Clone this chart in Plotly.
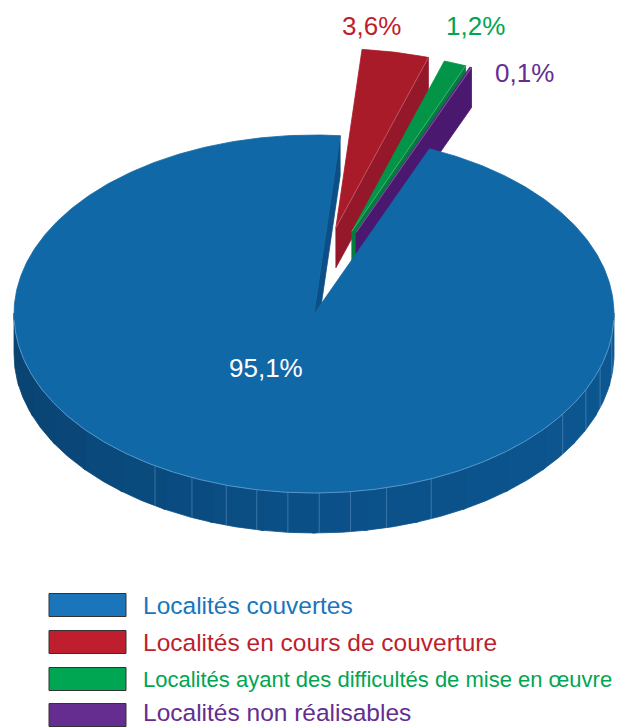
import numpy as np
import plotly.graph_objects as go

# ---------------- data ----------------
labels = [
    "Localités couvertes",
    "Localités en cours de couverture",
    "Localités ayant des difficultés de mise en œuvre",
    "Localités non réalisables",
]
values = [95.1, 3.6, 1.2, 0.1]

# ---------------- styles ----------------
top_colors = ["#1168a7", "#a91b29", "#029447", "#5c2482"]
face_colors = ["#0b4f86", "#94172a", "#027d3d", "#4a186f"]
legend_colors = ["#1a75bb", "#be1e2d", "#00a651", "#662d91"]
text_colors = ["#ffffff", "#be1e2d", "#00a651", "#662d91"]
pulled = [False, True, True, True]
draw_order = [1, 2, 3, 0]          # clockwise from the start angle
start_angle = 5.0                  # degrees, clockwise from top
W, H = 618, 727
CX, CY, RX, RY, DEPTH = 314, 314, 300, 179, 40
PULL_X, PULL_Y = 110, 88
label_pos = [(266, 368), (371, 26), (475, 26), (524, 73)]
legend_rows = [605, 642, 679, 715]
legend_text_rows = [605, 642, 679, 712]
legend_sizes = [24.5, 24.5, 22, 24.5]
facet_angles = [97, 107.5, 115, 124, 157, 166, 173, 179, 185, 191, 197, 204, 212]

FONT = "Liberation Sans"

# ---------------- geometry from values ----------------
total = sum(values)
spans = {}
a = start_angle
for i in draw_order:
    s = 360.0 * values[i] / total
    spans[i] = (a, a + s)
    a += s


def apex(i):
    a1, a2 = spans[i]
    if not pulled[i]:
        return CX, CY
    m = np.radians((a1 + a2) / 2)
    return CX + PULL_X * np.sin(m), CY - PULL_Y * np.cos(m)


def pt(ax, ay, theta_deg, z=0.0):
    t = np.radians(theta_deg)
    return ax + RX * np.sin(t), ay - RY * np.cos(t) + z


def arc(ax, ay, a1, a2, z=0.0, step=0.5):
    n = max(2, int(abs(a2 - a1) / step) + 2)
    th = np.linspace(a1, a2, n)
    xs = ax + RX * np.sin(np.radians(th))
    ys = ay - RY * np.cos(np.radians(th)) + z
    return list(xs), list(ys)


fig = go.Figure()


def poly(xs, ys, color, line_color=None, lw=0.8):
    fig.add_trace(go.Scatter(
        x=xs, y=ys, mode="lines", fill="toself", fillcolor=color,
        line=dict(color=line_color or color, width=lw),
        hoverinfo="skip", showlegend=False,
    ))


def seg(xs, ys, color, lw=0.8):
    fig.add_trace(go.Scatter(x=xs, y=ys, mode="lines",
                             line=dict(color=color, width=lw),
                             hoverinfo="skip", showlegend=False))


def end_face(i):
    ax, ay = apex(i)
    a2 = spans[i][1]
    ox, oy = pt(ax, ay, a2)
    poly([ax, ox, ox, ax, ax], [ay, oy, oy + DEPTH, ay + DEPTH, ay], face_colors[i])


def top_face(i, ridge=False):
    ax, ay = apex(i)
    a1, a2 = spans[i]
    xs, ys = arc(ax, ay, a1, a2)
    poly([ax] + xs + [ax], [ay] + ys + [ay], top_colors[i])
    if ridge:
        ox, oy = pt(ax, ay, a2)
        seg([ax, ox], [ay, oy], "rgba(255,255,255,0.35)", 0.7)


# exploded slices (behind the main slice)
for i in draw_order:
    if pulled[i]:
        end_face(i)
        top_face(i, ridge=True)

# main slice: curved side wall in shaded facets
main = [i for i in draw_order if not pulled[i]][0]
ax0, ay0 = apex(main)
edges = np.linspace(90, 270, 19)
c_right = np.array([12, 88, 147])
c_front = np.array([11, 80, 136])
c_left = np.array([9, 66, 110])
for k in range(len(edges) - 1):
    e1, e2 = edges[k], edges[k + 1]
    mid = (e1 + e2) / 2
    f = (mid - 90) / 180.0
    if f < 0.5:
        c = c_right + (c_front - c_right) * (f / 0.5)
    else:
        c = c_front + (c_left - c_front) * ((f - 0.5) / 0.5)
    col = "rgb(%d,%d,%d)" % tuple(np.round(c))
    xt, yt = arc(ax0, ay0, e1 - 0.3, e2 + 0.3)
    xb, yb = arc(ax0, ay0, e2 + 0.3, e1 - 0.3, z=DEPTH)
    poly(xt + xb + [xt[0]], yt + yb + [yt[0]], col)

# thin facet lines on the side wall
for fa in facet_angles:
    x1, y1 = pt(ax0, ay0, fa)
    seg([x1, x1], [y1, y1 + DEPTH], "rgba(120,165,210,0.55)", 0.8)

end_face(main)
top_face(main)

# light rim highlight along the front edge
xr, yr = arc(ax0, ay0, 92, 268)
seg(xr, yr, "rgba(140,185,225,0.7)", 0.8)

# percentage labels
for i in range(len(values)):
    txt = ("%.1f" % values[i]).replace(".", ",") + "%"
    x, y = label_pos[i]
    fig.add_annotation(x=x, y=y, xref="x", yref="y", text=txt, showarrow=False,
                       font=dict(family=FONT, size=26, color=text_colors[i]),
                       xanchor="center", yanchor="middle")

# legend (boxes + texts)
shapes = []
for i in range(len(labels)):
    yc = legend_rows[i]
    shapes.append(dict(type="rect", xref="x", yref="y", x0=49, x1=126,
                       y0=yc - 11.5, y1=yc + 11.5,
                       fillcolor=legend_colors[i],
                       line=dict(color="#333333", width=1)))
    fig.add_annotation(x=141, y=legend_text_rows[i], xref="x", yref="y",
                       text=labels[i],
                       showarrow=False, xanchor="left", yanchor="middle",
                       font=dict(family=FONT, size=legend_sizes[i],
                                 color=legend_colors[i]))

fig.update_layout(
    width=W, height=H, margin=dict(l=0, r=0, t=0, b=0),
    paper_bgcolor="white", plot_bgcolor="white",
    xaxis=dict(range=[0, W], visible=False, fixedrange=True),
    yaxis=dict(range=[H, 0], visible=False, fixedrange=True),
    shapes=shapes, showlegend=False,
)

fig.write_html("out.html", config={"displayModeBar": False})
